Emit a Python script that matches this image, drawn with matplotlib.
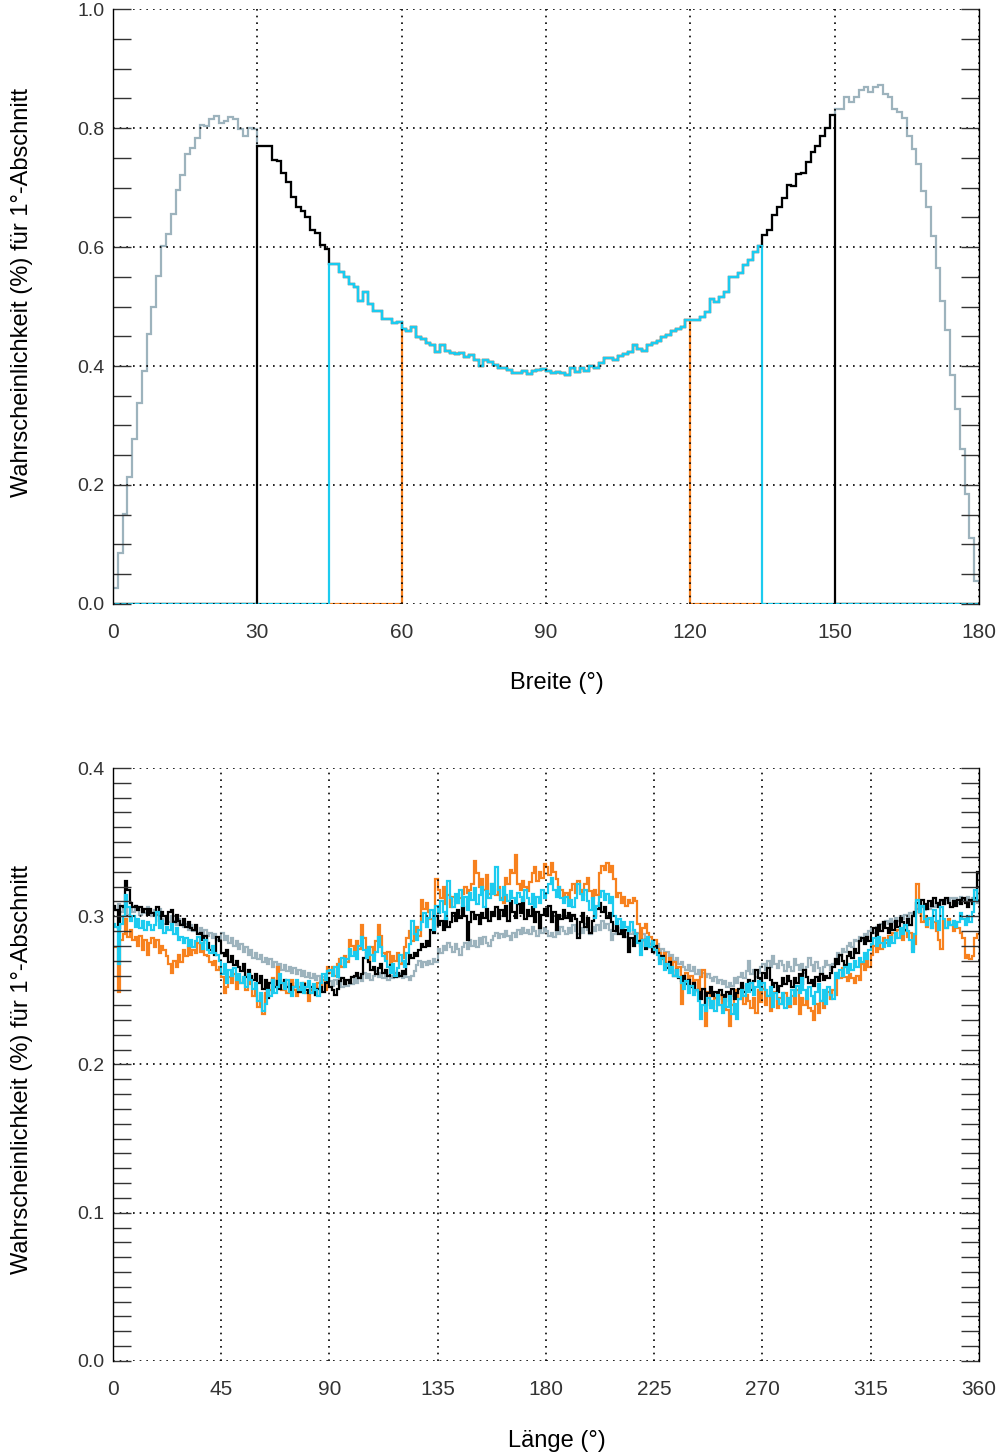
import numpy as np
import matplotlib
matplotlib.use("Agg")
import matplotlib.pyplot as plt
from matplotlib.ticker import MultipleLocator, FormatStrFormatter

plt.rcParams['font.family'] = ['Liberation Sans', 'DejaVu Sans']

# ---------------------------------------------------------------------------
# Latitude distribution (probability in % per 1-degree bin, 0..180 deg)
# ---------------------------------------------------------------------------
lat_profile = [
    0.027, 0.085, 0.152, 0.213, 0.278, 0.337, 0.391, 0.453, 0.500, 0.551,
    0.602, 0.622, 0.655, 0.695, 0.721, 0.757, 0.767, 0.784, 0.805, 0.804,
    0.815, 0.820, 0.809, 0.812, 0.819, 0.815, 0.798, 0.787, 0.800, 0.799,
    0.770, 0.769, 0.769, 0.746, 0.745, 0.724, 0.709, 0.684, 0.667, 0.660,
    0.650, 0.629, 0.624, 0.603, 0.596, 0.572, 0.572, 0.558, 0.549, 0.537,
    0.533, 0.510, 0.524, 0.505, 0.493, 0.492, 0.479, 0.479, 0.473, 0.474,
    0.462, 0.458, 0.465, 0.448, 0.445, 0.439, 0.436, 0.424, 0.435, 0.426,
    0.422, 0.420, 0.422, 0.415, 0.418, 0.410, 0.400, 0.410, 0.407, 0.401,
    0.397, 0.396, 0.393, 0.389, 0.389, 0.392, 0.387, 0.392, 0.393, 0.395,
    0.392, 0.388, 0.390, 0.389, 0.385, 0.397, 0.390, 0.397, 0.392, 0.400,
    0.397, 0.405, 0.413, 0.413, 0.410, 0.417, 0.420, 0.424, 0.435, 0.428,
    0.426, 0.435, 0.438, 0.442, 0.448, 0.452, 0.459, 0.463, 0.466, 0.477,
    0.478, 0.478, 0.483, 0.490, 0.512, 0.508, 0.516, 0.524, 0.549, 0.550,
    0.557, 0.569, 0.578, 0.591, 0.602, 0.621, 0.629, 0.654, 0.667, 0.682,
    0.704, 0.703, 0.722, 0.725, 0.743, 0.760, 0.769, 0.787, 0.800, 0.822,
    0.832, 0.832, 0.852, 0.844, 0.852, 0.864, 0.869, 0.861, 0.869, 0.872,
    0.857, 0.852, 0.832, 0.827, 0.817, 0.787, 0.764, 0.739, 0.694, 0.667,
    0.619, 0.564, 0.510, 0.461, 0.385, 0.328, 0.261, 0.185, 0.111, 0.038,
]

# latitude window covered by each data set (start, end) in degrees
lat_windows = {
    "gray": (0, 180),
    "orange": (60, 120),
    "black": (30, 150),
    "cyan": (45, 135),
}

# ---------------------------------------------------------------------------
# Longitude distribution (thousandths of a percent per 1-degree bin, 0..360)
# ---------------------------------------------------------------------------
lon_gray = [
    306, 304, 308, 303, 306, 305, 301, 306, 303, 307,
    304, 301, 305, 302, 306, 303, 300, 304, 301, 305,
    298, 295, 299, 296, 300, 297, 294, 298, 295, 293,
    295, 291, 294, 290, 293, 289, 292, 288, 291, 287,
    289, 285, 288, 284, 285, 289, 284, 287, 282, 285,
    280, 283, 278, 281, 276, 279, 274, 277, 272, 275,
    271, 274, 269, 272, 268, 271, 266, 269, 265, 268,
    264, 267, 263, 266, 262, 265, 261, 264, 260, 263,
    259, 262, 258, 261, 257, 260, 256, 259, 255, 258,
    256, 253, 257, 254, 258, 252, 256, 253, 257, 254,
    258, 255, 259, 256, 262, 258, 261, 257, 260, 263,
    259, 262, 258, 261, 257, 260, 258, 262, 259, 261,
    258, 261, 259, 257, 260, 263, 267, 270, 266, 269,
    267, 270, 268, 271, 269, 278, 275, 280, 277, 282,
    279, 276, 281, 278, 274, 279, 282, 278, 284, 280,
    283, 279, 285, 281, 286, 282, 280, 284, 287, 289,
    285, 288, 286, 290, 287, 284, 289, 286, 291, 288,
    292, 289, 291, 288, 293, 290, 287, 291, 289, 292,
    290, 287, 289, 286, 291, 288, 293, 290, 288, 292,
    289, 294, 290, 288, 292, 289, 295, 291, 288, 293,
    290, 294, 291, 297, 292, 295, 291, 284, 288, 292,
    289, 293, 290, 286, 291, 288, 290, 287, 289, 285,
    288, 284, 286, 281, 283, 279, 281, 276, 278, 274,
    276, 272, 274, 270, 272, 268, 269, 266, 264, 267,
    263, 266, 261, 264, 260, 262, 259, 261, 258, 256,
    259, 255, 257, 254, 256, 252, 255, 253, 258, 255,
    259, 262, 258, 263, 270, 261, 264, 259, 262, 266,
    268, 264, 270, 266, 273, 268, 265, 270, 267, 263,
    269, 266, 263, 271, 267, 264, 268, 262, 266, 272,
    267, 263, 269, 265, 261, 266, 270, 267, 264, 268,
    271, 275, 273, 278, 276, 280, 282, 279, 284, 283,
    286, 284, 288, 286, 290, 292, 289, 293, 291, 295,
    293, 297, 295, 298, 296, 299, 297, 300, 298, 301,
    299, 302, 300, 303, 305, 302, 306, 304, 307, 305,
    308, 306, 309, 307, 310, 308, 311, 309, 312, 310,
    312, 309, 313, 311, 310, 313, 310, 312, 311, 309,
]

lon_black = [
    307, 304, 292, 307, 306, 324, 318, 309, 306, 307,
    304, 306, 303, 305, 301, 305, 302, 301, 306, 297,
    303, 300, 295, 303, 304, 296, 301, 297, 294, 298,
    293, 296, 292, 291, 294, 288, 289, 284, 287, 282,
    277, 279, 274, 286, 283, 275, 273, 277, 269, 273,
    267, 270, 266, 263, 268, 259, 264, 260, 257, 261,
    255, 260, 251, 257, 245, 255, 257, 252, 256, 251,
    255, 257, 252, 254, 250, 252, 255, 249, 251, 254,
    250, 248, 252, 249, 247, 251, 252, 249, 255, 258,
    252, 250, 247, 251, 256, 258, 254, 257, 255, 259,
    260, 262, 258, 261, 272, 275, 269, 264, 266, 261,
    265, 268, 262, 264, 260, 267, 263, 259, 262, 260,
    263, 261, 268, 274, 272, 275, 273, 277, 281, 279,
    283, 280, 291, 289, 300, 294, 297, 291, 298, 293,
    296, 302, 297, 304, 299, 306, 300, 284, 296, 303,
    298, 301, 295, 302, 299, 305, 297, 303, 300, 306,
    298, 304, 300, 307, 297, 310, 303, 299, 308, 302,
    311, 298, 304, 300, 306, 296, 303, 292, 301, 305,
    300, 307, 296, 303, 291, 301, 298, 304, 299, 302,
    297, 301, 298, 285, 296, 302, 293, 299, 289, 297,
    300, 305, 309, 303, 306, 299, 302, 296, 290, 294,
    288, 292, 286, 291, 276, 285, 280, 288, 283, 280,
    284, 278, 282, 279, 276, 280, 275, 271, 273, 268,
    265, 269, 263, 260, 264, 258, 256, 260, 254, 257,
    252, 255, 250, 249, 244, 251, 240, 248, 252, 246,
    249, 244, 250, 247, 243, 249, 246, 251, 244, 248,
    251, 255, 249, 253, 257, 250, 256, 264, 258, 252,
    262, 258, 265, 257, 252, 255, 249, 253, 258, 254,
    260, 256, 252, 258, 255, 261, 254, 264, 259, 255,
    257, 253, 259, 256, 261, 257, 260, 258, 262, 266,
    271, 268, 274, 270, 267, 273, 276, 272, 278, 275,
    283, 285, 281, 286, 283, 289, 292, 287, 294, 290,
    296, 292, 289, 295, 291, 297, 293, 299, 296, 291,
    298, 294, 300, 303, 309, 306, 311, 308, 305, 310,
    307, 312, 309, 306, 311, 308, 312, 309, 306, 310,
    307, 311, 308, 312, 309, 306, 311, 308, 312, 330,
]

lon_cyan = [
    295, 293, 268, 295, 300, 314, 306, 297, 300, 293,
    298, 292, 297, 291, 296, 294, 291, 294, 303, 292,
    297, 289, 293, 291, 295, 288, 292, 284, 286, 282,
    285, 280, 284, 279, 283, 286, 282, 278, 284, 277,
    275, 280, 275, 274, 270, 261, 268, 255, 264, 260,
    265, 257, 261, 255, 259, 252, 261, 257, 251, 255,
    243, 248, 236, 241, 250, 246, 257, 248, 252, 261,
    255, 251, 257, 249, 246, 252, 257, 250, 255, 248,
    252, 256, 248, 254, 250, 246, 255, 261, 257, 263,
    264, 260, 266, 259, 268, 272, 266, 271, 278, 273,
    276, 271, 280, 286, 277, 272, 279, 274, 270, 276,
    286, 279, 273, 270, 266, 262, 268, 260, 265, 274,
    270, 266, 275, 281, 297, 288, 284, 291, 296, 302,
    293, 299, 304, 291, 307, 302, 310, 303, 298, 324,
    312, 306, 315, 309, 318, 307, 313, 304, 316, 311,
    319, 308, 314, 320, 306, 317, 312, 322, 315, 333,
    318, 311, 320, 314, 310, 317, 312, 309, 316, 313,
    310, 318, 312, 308, 315, 306, 313, 309, 318, 312,
    316, 322, 326, 318, 313, 320, 312, 309, 313, 307,
    311, 306, 312, 322, 315, 311, 318, 310, 304, 312,
    299, 307, 313, 317, 311, 315, 309, 313, 300, 295,
    298, 292, 296, 293, 290, 296, 291, 288, 282, 274,
    284, 280, 286, 279, 283, 277, 274, 268, 272, 264,
    268, 262, 266, 260, 264, 259, 255, 251, 256, 248,
    253, 247, 250, 243, 231, 240, 236, 245, 238, 243,
    236, 247, 240, 235, 244, 239, 246, 234, 241, 231,
    244, 250, 246, 254, 249, 255, 247, 252, 256, 250,
    255, 250, 246, 252, 239, 248, 244, 241, 248, 238,
    245, 241, 250, 246, 253, 248, 258, 250, 244, 252,
    246, 241, 249, 254, 243, 250, 241, 252, 247, 244,
    262, 258, 264, 260, 266, 262, 268, 264, 270, 266,
    272, 269, 275, 271, 277, 281, 285, 280, 286, 282,
    279, 284, 280, 286, 282, 289, 285, 292, 288, 294,
    290, 284, 276, 288, 311, 303, 307, 298, 294, 299,
    292, 304, 297, 291, 306, 298, 292, 296, 294, 297,
    293, 296, 302, 298, 294, 300, 296, 303, 318, 310,
]

lon_orange = [
    279, 279, 249, 284, 288, 298, 286, 291, 284, 286,
    280, 287, 277, 284, 274, 282, 285, 279, 284, 275,
    280, 277, 273, 268, 262, 270, 266, 274, 269, 277,
    273, 279, 274, 277, 275, 282, 276, 278, 274, 273,
    269, 267, 270, 264, 266, 259, 248, 252, 259, 255,
    261, 251, 259, 255, 257, 250, 261, 254, 246, 251,
    239, 246, 234, 248, 255, 250, 258, 252, 266, 257,
    250, 255, 248, 252, 257, 250, 246, 252, 249, 255,
    248, 243, 250, 252, 247, 255, 252, 257, 250, 266,
    262, 266, 260, 268, 271, 266, 273, 269, 284, 280,
    275, 283, 278, 294, 285, 276, 270, 279, 274, 283,
    294, 287, 275, 271, 276, 268, 273, 270, 275, 268,
    272, 279, 285, 290, 283, 288, 293, 287, 311, 305,
    309, 303, 298, 293, 325, 318, 312, 320, 308, 314,
    306, 313, 310, 309, 312, 315, 320, 316, 318, 322,
    337, 329, 320, 325, 318, 328, 315, 322, 318, 314,
    320, 312, 309, 326, 322, 331, 329, 341, 322, 318,
    324, 320, 317, 323, 329, 333, 324, 330, 326, 335,
    333, 328, 336, 330, 325, 320, 318, 313, 316, 311,
    318, 322, 316, 324, 318, 314, 322, 326, 317, 312,
    318, 314, 329, 334, 331, 336, 330, 334, 325, 313,
    316, 309, 313, 307, 311, 309, 312, 310, 295, 284,
    292, 295, 289, 286, 280, 284, 278, 275, 271, 275,
    268, 272, 266, 269, 263, 266, 241, 258, 262, 255,
    260, 253, 257, 250, 259, 264, 226, 249, 243, 238,
    245, 240, 247, 238, 243, 237, 226, 240, 246, 250,
    244, 249, 241, 247, 243, 238, 245, 235, 250, 242,
    251, 240, 246, 236, 243, 249, 238, 245, 241, 248,
    243, 239, 246, 241, 250, 234, 245, 240, 244, 238,
    236, 230, 241, 235, 243, 238, 245, 249, 244, 250,
    247, 262, 258, 265, 259, 256, 261, 258, 255, 260,
    257, 268, 264, 270, 266, 274, 280, 276, 283, 278,
    285, 282, 287, 284, 289, 285, 291, 287, 284, 290,
    286, 289, 278, 281, 322, 303, 296, 300, 293, 298,
    292, 296, 290, 284, 278, 297, 292, 298, 294, 290,
    296, 292, 289, 285, 272, 274, 271, 273, 285, 288,
]

series_colors = {
    "gray": "#9db3bd",
    "orange": "#f7811e",
    "black": "#000000",
    "cyan": "#1ccbef",
}
draw_order = ["gray", "orange", "black", "cyan"]

lon_series = {
    "gray": lon_gray,
    "orange": lon_orange,
    "black": lon_black,
    "cyan": lon_cyan,
}

ylabel_text = "Wahrscheinlichkeit (%) für 1°-Abschnitt"

fig = plt.figure(figsize=(10.05, 14.54), dpi=100)
ax1 = fig.add_axes([0.1124, 0.5846, 0.8617, 0.4092])
ax2 = fig.add_axes([0.1124, 0.0640, 0.8617, 0.4078])


def style_axes(ax, xmax, xstep, ymax, ystep, yminor):
    ax.set_xlim(0, xmax)
    ax.set_ylim(0, ymax)
    ax.set_xticks(np.arange(0, xmax + 1, xstep))
    ax.set_yticks(np.arange(0, ymax + 1e-9, ystep))
    ax.yaxis.set_minor_locator(MultipleLocator(yminor))
    ax.yaxis.set_major_formatter(FormatStrFormatter('%.1f'))
    ax.tick_params(axis='x', which='both', length=0, pad=14,
                   labelsize=15, labelcolor='#333333')
    ax.tick_params(axis='y', which='both', direction='in', length=13,
                   width=1.0, color='#333333', left=True, right=True,
                   labelsize=14, pad=6, labelcolor='#333333')
    ax.grid(True, which='major', color='black',
            linestyle=(0, (1, 3)), linewidth=1.2)
    for side in ('top', 'bottom'):
        ax.spines[side].set_visible(False)
    for side in ('left', 'right'):
        ax.spines[side].set_linewidth(1.0)


# --- top panel: latitude -------------------------------------------------
lat_edges = np.arange(0, 181)
lat_centers = lat_edges[:-1]
profile = np.array(lat_profile)
for name in draw_order:
    lo, hi = lat_windows[name]
    vals = np.where((lat_centers >= lo) & (lat_centers < hi), profile, 0.0)
    ax1.stairs(vals, lat_edges, baseline=None,
               color=series_colors[name], linewidth=1.6)

style_axes(ax1, 180, 30, 1.0, 0.2, 0.05)

# --- bottom panel: longitude ---------------------------------------------
lon_edges = np.arange(0, 361)
for name in draw_order:
    vals = np.array(lon_series[name]) / 1000.0
    ax2.stairs(vals, lon_edges, baseline=None,
               color=series_colors[name], linewidth=1.6)

style_axes(ax2, 360, 45, 0.4, 0.1, 0.01)

# axis titles
fig.text(0.554, 0.5303, "Breite (°)", ha='center', va='center', fontsize=17)
fig.text(0.554, 0.0089, "Länge (°)", ha='center', va='center', fontsize=17)
fig.text(0.022, 0.7985, ylabel_text, rotation=90, ha='center',
         va='center', fontsize=17)
fig.text(0.022, 0.2641, ylabel_text, rotation=90, ha='center',
         va='center', fontsize=17)

fig.savefig("out.png", dpi=100)
